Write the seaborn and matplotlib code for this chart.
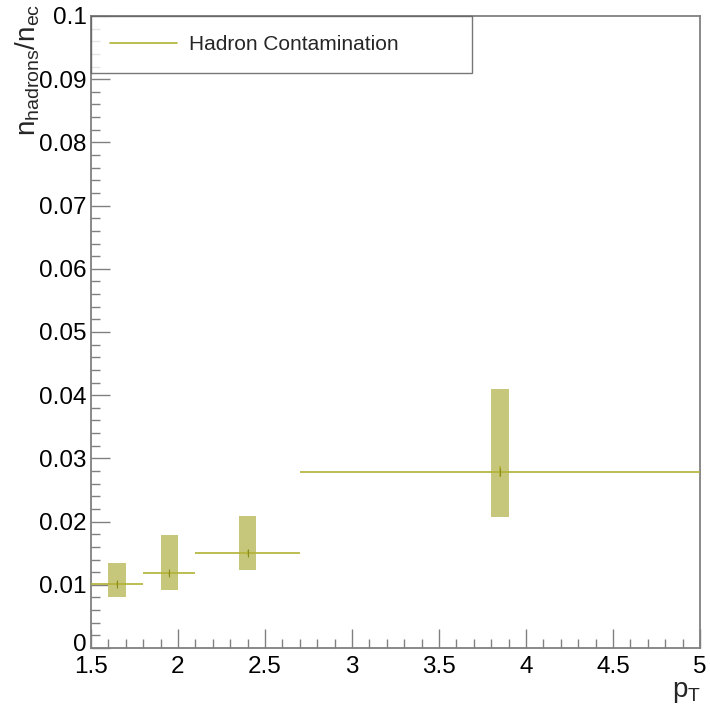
import matplotlib
matplotlib.use("Agg")
import matplotlib.pyplot as plt
import matplotlib.ticker as mticker
import matplotlib.transforms as mtransforms
from matplotlib.lines import Line2D
import numpy as np
import pandas as pd
import seaborn as sns

# ---- data ----
x_low = [1.5, 1.8, 2.1, 2.7]
x_high = [1.8, 2.1, 2.7, 5.0]
ratio = [0.0101, 0.0118, 0.0151, 0.0279]
stat_err = [0.0003, 0.0003, 0.0004, 0.0009]
sys_low = [0.0081, 0.0091, 0.0123, 0.0207]
sys_high = [0.0135, 0.0179, 0.0209, 0.0410]
box_halfwidth = 0.05
legend_label = "Hadron Contamination"

df = pd.DataFrame({
    "x_low": x_low, "x_high": x_high, "ratio": ratio, "stat": stat_err,
    "sys_low": sys_low, "sys_high": sys_high,
})
df["center"] = (df["x_low"] + df["x_high"]) / 2
df["xerr"] = (df["x_high"] - df["x_low"]) / 2

sns.set_theme(style="white")
plt.rcParams["font.family"] = ["Liberation Sans", "DejaVu Sans"]
plt.rcParams["mathtext.fontset"] = "custom"
plt.rcParams["mathtext.rm"] = "Liberation Sans"
plt.rcParams["mathtext.it"] = "Liberation Sans"

line_color = "#b2b236"
box_color = "#c7c77c"
axis_color = "#808080"

fig = plt.figure(figsize=(7.10, 7.06), dpi=100)
ax = fig.add_axes([91 / 710, 1 - 648 / 706, 609 / 710, 632 / 706])

# systematic boxes
ax.bar(df["center"], df["sys_high"] - df["sys_low"], bottom=df["sys_low"],
       width=2 * box_halfwidth, color=box_color, edgecolor="none", zorder=2)

# horizontal bin lines + stat errors
ax.errorbar(df["center"], df["ratio"], xerr=df["xerr"], yerr=df["stat"],
            fmt="none", ecolor=line_color, elinewidth=1.2, capsize=0, zorder=3)
sns.scatterplot(data=df, x="center", y="ratio", ax=ax, marker="|", s=30,
                color="#8c8c1e", linewidth=0.8, zorder=4, legend=False)

ax.set_xlim(1.5, 5.0)
ax.set_ylim(0, 0.1)
ax.set_xlabel("")
ax.set_ylabel("")

ax.xaxis.set_major_locator(mticker.MultipleLocator(0.5))
ax.xaxis.set_minor_locator(mticker.MultipleLocator(0.1))
ax.yaxis.set_major_locator(mticker.MultipleLocator(0.01))
ax.yaxis.set_minor_locator(mticker.MultipleLocator(0.002))
fmt = mticker.FuncFormatter(lambda v, p: ("%g" % round(v, 6)))
ax.xaxis.set_major_formatter(fmt)
ax.yaxis.set_major_formatter(fmt)

ax.tick_params(axis="both", which="both", direction="in", colors=axis_color,
               labelcolor="black", labelsize=17.5, width=1.0)
ax.tick_params(axis="both", which="major", length=13.5)
ax.tick_params(axis="both", which="minor", length=6.5)
ax.tick_params(axis="x", which="both", top=False, bottom=True, pad=6)
ax.tick_params(axis="y", which="both", left=True, right=False, pad=3)

for sp in ax.spines.values():
    sp.set_color(axis_color)
    sp.set_linewidth(1.3)

# nudge the "0" y tick label up slightly so it does not collide with "1.5"
fig.canvas.draw()
for lbl in ax.get_yticklabels():
    if lbl.get_text() == "0":
        lbl.set_transform(lbl.get_transform() +
                          mtransforms.ScaledTranslation(0, 4 / 72, fig.dpi_scale_trans))

handle = Line2D([], [], color=line_color, linewidth=1.2)
leg = ax.legend([handle], [legend_label], loc="upper left",
                bbox_to_anchor=(0, 0.911, 381 / 609, 0.089),
                mode="expand", borderaxespad=0, frameon=True, fancybox=False,
                fontsize=15, handlelength=3.2, handletextpad=0.6,
                borderpad=0.92)
leg.get_frame().set_edgecolor("#555555")
leg.get_frame().set_linewidth(1.0)

fig.text(28 / 710, 1 - 4 / 706, r"$\mathregular{n_{hadrons}/n_{ec}}$",
         rotation=90, ha="center", va="top", fontsize=20)
fig.text(701 / 710, 1 - 679 / 706, r"$\mathregular{p_{T}}$",
         ha="right", va="top", fontsize=20)

fig.savefig("out.png", dpi=100)
